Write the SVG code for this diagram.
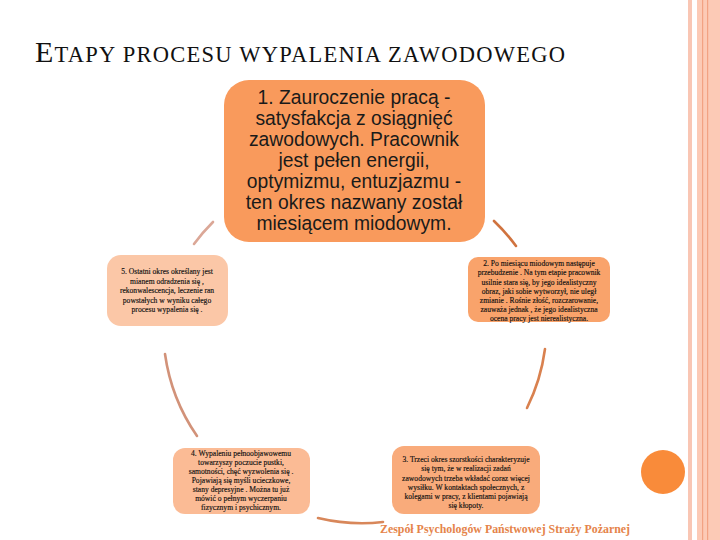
<svg xmlns="http://www.w3.org/2000/svg" width="720" height="540" viewBox="0 0 720 540">
<style>
.big{font-family:"Liberation Sans",Arial,sans-serif;font-size:19.3px;fill:#1a1a1a;text-anchor:middle}
.small{font-family:"Liberation Serif","Times New Roman",serif;font-size:7.6px;fill:#111;stroke:#111;stroke-width:0.15;text-anchor:middle}
.conn{fill:none;stroke-width:2.6;stroke-linecap:round}
</style>
<rect width="720" height="540" fill="#ffffff"/>
<g id="decor">
<rect x="688" y="0" width="4" height="540" fill="#f9c6b4"/>
<rect x="697" y="0" width="23" height="540" fill="#fccab6"/>
<rect x="702" y="0" width="1.2" height="540" fill="#f2a283"/>
<rect x="707" y="0" width="1.2" height="540" fill="#f2a283"/>
<circle cx="663" cy="472" r="22" fill="#f98b3a"/>
</g>
<text x="35" y="62" font-family="Liberation Serif,'Times New Roman',serif" fill="#111" textLength="530" lengthAdjust="spacing"><tspan font-size="30">E</tspan><tspan font-size="22.5">TAPY PROCESU WYPALENIA ZAWODOWEGO</tspan></text>
<g id="connectors">
<path class="conn" stroke="#dba797" d="M194,244 A190,190 0 0 1 213,222"/>
<path class="conn" stroke="#d0733f" d="M494,221 A190,190 0 0 1 516,246"/>
<path class="conn" stroke="#d9814f" d="M545,349 A190,190 0 0 1 527,408"/>
<path class="conn" stroke="#d8875a" d="M383,522 A190,190 0 0 1 318,518"/>
<path class="conn" stroke="#d29279" d="M197,436 A190,190 0 0 1 165,354"/>
</g>
<g id="node1">
<rect x="224" y="80" width="261" height="162" rx="25" fill="#f99a5c"/>
<text class="big"><tspan x="354" y="104">1. Zauroczenie pracą -</tspan><tspan x="354" y="125">satysfakcja z osiągnięć</tspan><tspan x="354" y="146">zawodowych. Pracownik</tspan><tspan x="354" y="167">jest pełen energii,</tspan><tspan x="354" y="188">optymizmu, entuzjazmu -</tspan><tspan x="354" y="209">ten okres nazwany został</tspan><tspan x="354" y="230">miesiącem miodowym.</tspan></text>
</g>
<g id="node2">
<rect x="468" y="257" width="142" height="65" rx="10" fill="#f9a36b"/>
<text class="small"><tspan x="539" y="266">2. Po miesiącu miodowym następuje</tspan><tspan x="539" y="275">przebudzenie . Na tym etapie pracownik</tspan><tspan x="539" y="284.5">usilnie stara się, by jego idealistyczny</tspan><tspan x="539" y="294">obraz, jaki sobie wytworzył, nie uległ</tspan><tspan x="539" y="303">zmianie . Rośnie złość, rozczarowanie,</tspan><tspan x="539" y="312">zauważa jednak , że jego idealistyczna</tspan><tspan x="539" y="321">ocena pracy jest nierealistyczna.</tspan></text>
</g>
<g id="node3">
<rect x="392" y="446" width="148" height="68" rx="12" fill="#f9ab7b"/>
<text class="small"><tspan x="466" y="462">3. Trzeci okres szorstkości charakteryzuje</tspan><tspan x="466" y="471">się tym, że w realizacji zadań</tspan><tspan x="466" y="480.5">zawodowych trzeba wkładać coraz więcej</tspan><tspan x="466" y="490">wysiłku. W kontaktach społecznych, z</tspan><tspan x="466" y="499">kolegami w pracy, z klientami pojawiają</tspan><tspan x="466" y="508">się kłopoty.</tspan></text>
</g>
<g id="node4">
<rect x="173" y="448" width="137" height="66" rx="12" fill="#fbbb95"/>
<text class="small"><tspan x="241" y="456">4. Wypaleniu pełnoobjawowemu</tspan><tspan x="241" y="465">towarzyszy poczucie pustki,</tspan><tspan x="241" y="474">samotności, chęć wyzwolenia się .</tspan><tspan x="241" y="483">Pojawiają się myśli ucieczkowe,</tspan><tspan x="241" y="492">stany depresyjne . Można tu już</tspan><tspan x="241" y="501">mówić o pełnym wyczerpaniu</tspan><tspan x="241" y="510">fizycznym i psychicznym.</tspan></text>
</g>
<g id="node5">
<rect x="107" y="255" width="121" height="71" rx="14" fill="#fbc7a7"/>
<text class="small"><tspan x="167" y="274">5. Ostatni okres określany jest</tspan><tspan x="167" y="283.5">mianem odradzenia się ,</tspan><tspan x="167" y="293">rekonwalescencja, leczenie ran</tspan><tspan x="167" y="302.5">powstałych w wyniku całego</tspan><tspan x="167" y="312">procesu wypalenia się .</tspan></text>
</g>
<text x="380" y="533" font-family="Liberation Serif,'Times New Roman',serif" font-weight="bold" font-size="13" fill="#e5844a" textLength="250" lengthAdjust="spacingAndGlyphs">Zespół Psychologów Państwowej Straży Pożarnej</text>
</svg>
